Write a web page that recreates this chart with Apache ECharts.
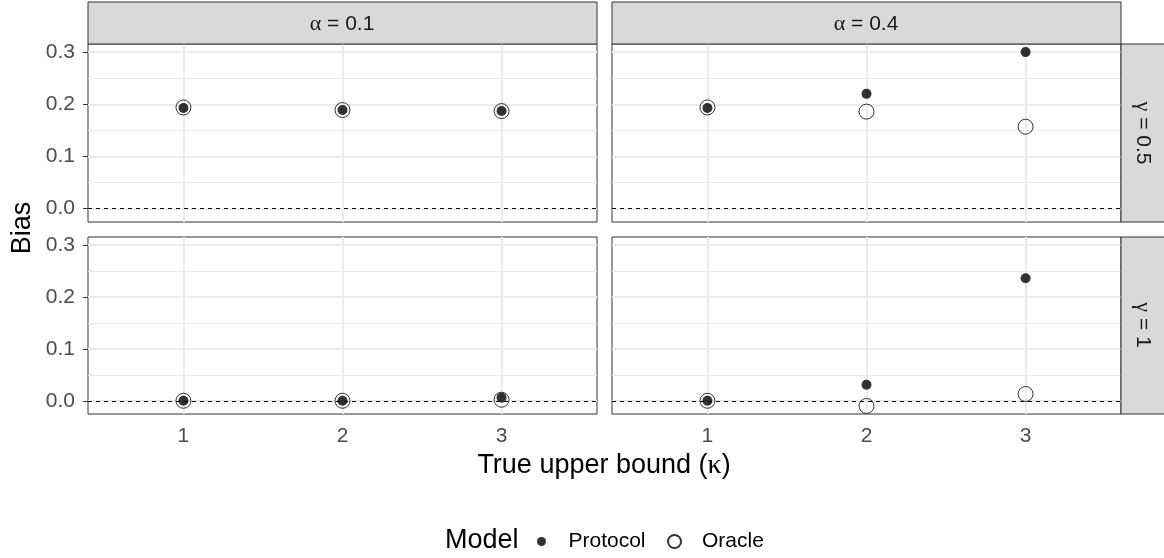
<!DOCTYPE html>
<html>
<head>
<meta charset="utf-8">
<script src="https://cdn.jsdelivr.net/npm/echarts@6/dist/echarts.min.js"></script>
<style>
  html, body { margin: 0; padding: 0; background: #fff; }
  #chart { width: 1164px; height: 558px; }
</style>
</head>
<body>
<div id="chart"></div>
<script>
// ---- data ----
const kappa = [1, 2, 3];
const xTicks = [1, 2, 3];
const yTicks = [0, 0.1, 0.2, 0.3];
const yMinorLines = [0.05, 0.15, 0.25];
const alphaLabels = ['0.1', '0.4'];
const gammaLabels = ['0.5', '1'];
const seriesNames = ['Protocol', 'Oracle'];

// panel: alpha = 0.1, gamma = 0.5
const protocolA01G05 = [0.193, 0.189, 0.187];
const oracleA01G05   = [0.194, 0.189, 0.187];
// panel: alpha = 0.4, gamma = 0.5
const protocolA04G05 = [0.193, 0.220, 0.300];
const oracleA04G05   = [0.194, 0.186, 0.157];
// panel: alpha = 0.1, gamma = 1
const protocolA01G1  = [0.000, 0.000, 0.006];
const oracleA01G1    = [0.000, 0.000, 0.002];
// panel: alpha = 0.4, gamma = 1
const protocolA04G1  = [0.000, 0.031, 0.236];
const oracleA04G1    = [0.000, -0.010, 0.013];

// ---- layout / style ----
const FONT = 'Liberation Sans, Arial, sans-serif';
const SERIF = 'Liberation Serif, DejaVu Serif, serif';
const X_MIN = 0.4, X_MAX = 3.6;
const Y_MIN = -0.0255, Y_MAX = 0.3155;

const panels = [
  { grid: { left: 88,  top: 44,  width: 509, height: 178 }, p: protocolA01G05, o: oracleA01G05, showX: false, showY: true },
  { grid: { left: 612, top: 44,  width: 509, height: 178 }, p: protocolA04G05, o: oracleA04G05, showX: false, showY: false },
  { grid: { left: 88,  top: 237, width: 509, height: 177 }, p: protocolA01G1,  o: oracleA01G1,  showX: true,  showY: true },
  { grid: { left: 612, top: 237, width: 509, height: 177 }, p: protocolA04G1,  o: oracleA04G1,  showX: true,  showY: false }
];

const grids = [], xAxes = [], yAxes = [], series = [];
panels.forEach((pn, i) => {
  grids.push(Object.assign({ show: true, borderColor: '#333333', borderWidth: 1, backgroundColor: '#ffffff', containLabel: false }, pn.grid));
  xAxes.push({
    gridIndex: i, type: 'value', min: X_MIN, max: X_MAX,
    axisLine: { show: false }, splitLine: { show: false },
    axisTick: { show: pn.showX, customValues: xTicks, length: 5, lineStyle: { color: '#333333', width: 1 } },
    axisLabel: { show: pn.showX, customValues: xTicks, color: '#4D4D4D', fontSize: 21, fontFamily: FONT, margin: 12 }
  });
  yAxes.push({
    gridIndex: i, type: 'value', min: Y_MIN, max: Y_MAX,
    axisLine: { show: false }, splitLine: { show: false },
    axisTick: { show: pn.showY, customValues: yTicks, length: 5, lineStyle: { color: '#333333', width: 1 } },
    axisLabel: { show: pn.showY, customValues: yTicks, color: '#4D4D4D', fontSize: 21, fontFamily: FONT, margin: 13,
                 formatter: v => Number(v).toFixed(1) }
  });
  const gridLines = [];
  xTicks.forEach(v => gridLines.push({ xAxis: v, lineStyle: { color: '#EBEBEB', width: 2, type: 'solid' } }));
  yMinorLines.forEach(v => gridLines.push({ yAxis: v, lineStyle: { color: '#EBEBEB', width: 1, type: 'solid' } }));
  yTicks.forEach(v => gridLines.push({ yAxis: v, lineStyle: { color: '#EBEBEB', width: 2, type: 'solid' } }));
  gridLines.push({ yAxis: 0, lineStyle: { color: '#000000', width: 1, type: [4, 4] } });
  series.push({
    type: 'line', name: '_grid' + i, xAxisIndex: i, yAxisIndex: i, data: [], silent: true, z: 1,
    markLine: { silent: true, z: 1, symbol: 'none', animation: false, label: { show: false }, data: gridLines }
  });
  series.push({
    type: 'scatter', name: 'Oracle', xAxisIndex: i, yAxisIndex: i, z: 6,
    data: kappa.map((k, j) => [k, pn.o[j]]),
    symbol: 'circle', symbolSize: 15,
    itemStyle: { color: 'rgba(0,0,0,0)', borderColor: '#000000', borderWidth: 1 },
    emphasis: { disabled: true }
  });
  series.push({
    type: 'scatter', name: 'Protocol', xAxisIndex: i, yAxisIndex: i, z: 7,
    data: kappa.map((k, j) => [k, pn.p[j]]),
    symbol: 'circle', symbolSize: 10,
    itemStyle: { color: '#000000' },
    emphasis: { disabled: true }
  });
});

const stripStyle = { fill: '#D9D9D9', stroke: '#333333', lineWidth: 1 };
const graphics = [
  { type: 'rect', shape: { x: 88, y: 2, width: 509, height: 42 }, style: stripStyle, z: 10 },
  { type: 'rect', shape: { x: 612, y: 2, width: 509, height: 42 }, style: stripStyle, z: 10 },
  { type: 'rect', shape: { x: 1121, y: 44, width: 50, height: 178 }, style: stripStyle, z: 10 },
  { type: 'rect', shape: { x: 1121, y: 237, width: 50, height: 177 }, style: stripStyle, z: 10 },
  { type: 'text', x: 342, y: 24, z: 11, style: { text: '{g|α} = ' + alphaLabels[0], rich: { g: { fontFamily: SERIF, fontSize: 22, fill: '#1A1A1A' } },
      fontFamily: FONT, fontSize: 21, fill: '#1A1A1A', align: 'center', verticalAlign: 'middle' } },
  { type: 'text', x: 866, y: 24, z: 11, style: { text: '{g|α} = ' + alphaLabels[1], rich: { g: { fontFamily: SERIF, fontSize: 22, fill: '#1A1A1A' } },
      fontFamily: FONT, fontSize: 21, fill: '#1A1A1A', align: 'center', verticalAlign: 'middle' } },
  { type: 'text', x: 1143, y: 133, rotation: -Math.PI / 2, z: 11, style: { text: '{g|γ} = ' + gammaLabels[0], rich: { g: { fontFamily: SERIF, fontSize: 22, fill: '#1A1A1A' } },
      fontFamily: FONT, fontSize: 21, fill: '#1A1A1A', align: 'center', verticalAlign: 'middle' } },
  { type: 'text', x: 1143, y: 325, rotation: -Math.PI / 2, z: 11, style: { text: '{g|γ} = ' + gammaLabels[1], rich: { g: { fontFamily: SERIF, fontSize: 22, fill: '#1A1A1A' } },
      fontFamily: FONT, fontSize: 21, fill: '#1A1A1A', align: 'center', verticalAlign: 'middle' } },
  { type: 'text', x: 23, y: 228, rotation: Math.PI / 2, z: 11, style: { text: 'Bias', fontFamily: FONT, fontSize: 27, fill: '#000000', align: 'center', verticalAlign: 'middle' } },
  { type: 'text', x: 604, y: 466, z: 11, style: { text: 'True upper bound ({g|κ})', rich: { g: { fontFamily: SERIF, fontSize: 28, fill: '#000000' } },
      fontFamily: FONT, fontSize: 27, fill: '#000000', align: 'center', verticalAlign: 'middle' } },
  { type: 'text', x: 445, y: 541, z: 11, style: { text: 'Model', fontFamily: FONT, fontSize: 27, fill: '#000000', align: 'left', verticalAlign: 'middle' } }
];

const chart = echarts.init(document.getElementById('chart'), null, { renderer: 'canvas' });
chart.setOption({
  animation: false,
  backgroundColor: '#ffffff',
  grid: grids,
  xAxis: xAxes,
  yAxis: yAxes,
  legend: [
    { data: [seriesNames[0]], left: 532, top: 526, itemWidth: 44, itemHeight: 9, selectedMode: false,
      textStyle: { fontSize: 21, fontFamily: FONT, color: '#000000' } },
    { data: [seriesNames[1]], left: 662, top: 526, itemWidth: 45, itemHeight: 13, selectedMode: false,
      textStyle: { fontSize: 21, fontFamily: FONT, color: '#000000' } }
  ],
  graphic: graphics,
  series: series
});
</script>
</body>
</html>
